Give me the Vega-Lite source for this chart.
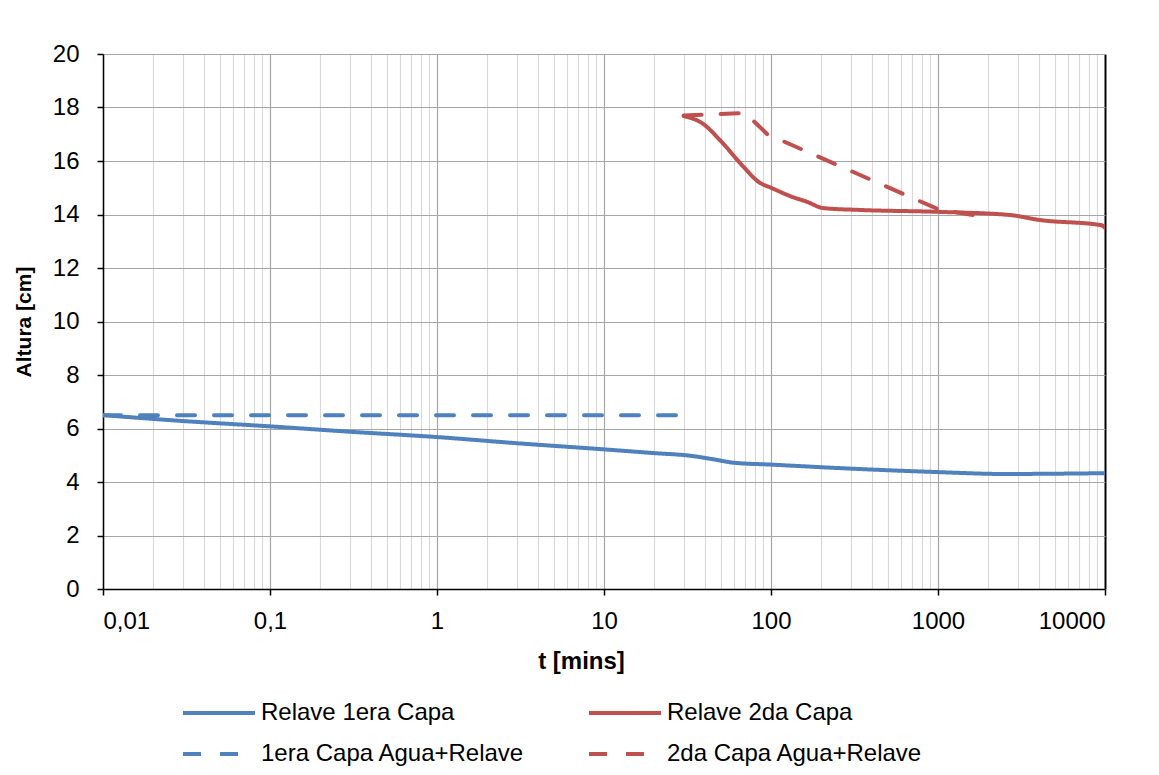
{
  "$schema": "https://vega.github.io/schema/vega-lite/v6.json",
  "autosize": {"type": "none"},
  "padding": {"left": 103, "top": 54, "right": 54, "bottom": 186},
  "width": 1002,
  "height": 535,
  "background": "white",
  "config": {
    "font": "Liberation Sans",
    "view": {"stroke": null},
    "axis": {"labelFont": "Liberation Sans", "titleFont": "Liberation Sans", "labelColor": "black", "titleColor": "black"}
  },
  "data": {
    "values": [
      {"serie": "Relave 1era Capa", "t": 0.01, "h": 6.5},
      {"serie": "Relave 1era Capa", "t": 0.03, "h": 6.28},
      {"serie": "Relave 1era Capa", "t": 0.1, "h": 6.08},
      {"serie": "Relave 1era Capa", "t": 0.3, "h": 5.88},
      {"serie": "Relave 1era Capa", "t": 1, "h": 5.68},
      {"serie": "Relave 1era Capa", "t": 3, "h": 5.45},
      {"serie": "Relave 1era Capa", "t": 10, "h": 5.22},
      {"serie": "Relave 1era Capa", "t": 20, "h": 5.08},
      {"serie": "Relave 1era Capa", "t": 33, "h": 4.98},
      {"serie": "Relave 1era Capa", "t": 45, "h": 4.85},
      {"serie": "Relave 1era Capa", "t": 60, "h": 4.72},
      {"serie": "Relave 1era Capa", "t": 100, "h": 4.65},
      {"serie": "Relave 1era Capa", "t": 300, "h": 4.5},
      {"serie": "Relave 1era Capa", "t": 1000, "h": 4.37},
      {"serie": "Relave 1era Capa", "t": 2500, "h": 4.3},
      {"serie": "Relave 1era Capa", "t": 5000, "h": 4.31},
      {"serie": "Relave 1era Capa", "t": 10000, "h": 4.33},
      {"serie": "Relave 2da Capa", "t": 30, "h": 17.68},
      {"serie": "Relave 2da Capa", "t": 39, "h": 17.4},
      {"serie": "Relave 2da Capa", "t": 50, "h": 16.75},
      {"serie": "Relave 2da Capa", "t": 68, "h": 15.8},
      {"serie": "Relave 2da Capa", "t": 85, "h": 15.2},
      {"serie": "Relave 2da Capa", "t": 100, "h": 15.0},
      {"serie": "Relave 2da Capa", "t": 135, "h": 14.65},
      {"serie": "Relave 2da Capa", "t": 165, "h": 14.47},
      {"serie": "Relave 2da Capa", "t": 205, "h": 14.24},
      {"serie": "Relave 2da Capa", "t": 340, "h": 14.17},
      {"serie": "Relave 2da Capa", "t": 1000, "h": 14.1},
      {"serie": "Relave 2da Capa", "t": 2700, "h": 13.98},
      {"serie": "Relave 2da Capa", "t": 4000, "h": 13.8},
      {"serie": "Relave 2da Capa", "t": 9500, "h": 13.6},
      {"serie": "Relave 2da Capa", "t": 10000, "h": 13.5},
      {"serie": "1era Capa Agua+Relave", "t": 0.01, "h": 6.5},
      {"serie": "1era Capa Agua+Relave", "t": 30, "h": 6.5},
      {"serie": "2da Capa Agua+Relave", "t": 30, "h": 17.7},
      {"serie": "2da Capa Agua+Relave", "t": 70, "h": 17.8},
      {"serie": "2da Capa Agua+Relave", "t": 95, "h": 17.0},
      {"serie": "2da Capa Agua+Relave", "t": 1000, "h": 14.2},
      {"serie": "2da Capa Agua+Relave", "t": 1800, "h": 13.93}
    ]
  },
  "encoding": {
    "x": {
      "field": "t", "type": "quantitative",
      "scale": {"type": "log", "domain": [0.01, 10000], "nice": false},
      "axis": {
        "title": "t [mins]",
        "titleFontSize": 24, "titleFontWeight": "bold", "titlePadding": 16, "titleX": 478,
        "labelFontSize": 24, "labelPadding": 14, "labelOverlap": false,
        "labelExpr": "datum.value == 0.01 ? '0,01' : datum.value == 0.1 ? '0,1' : (abs(log(datum.value)/LN10 - round(log(datum.value)/LN10)) < 0.001 ? format(datum.value, 'd') : '')",
        "values": [0.01,0.02,0.03,0.04,0.05,0.06,0.07,0.08,0.09,0.1,0.2,0.3,0.4,0.5,0.6,0.7,0.8,0.9,1,2,3,4,5,6,7,8,9,10,20,30,40,50,60,70,80,90,100,200,300,400,500,600,700,800,900,1000,2000,3000,4000,5000,6000,7000,8000,9000,10000],
        "domainColor": "black", "domainWidth": 1.5,
        "tickSize": 6, "tickWidth": 1.5,
        "tickColor": {"condition": {"test": "abs(log(datum.value)/LN10 - round(log(datum.value)/LN10)) < 0.001", "value": "black"}, "value": "transparent"},
        "grid": true,
        "gridColor": {"condition": [{"test": "datum.value == 10000", "value": "black"}, {"test": "abs(log(datum.value)/LN10 - round(log(datum.value)/LN10)) < 0.001", "value": "#a6a6a6"}], "value": "#d9d9d9"},
        "gridWidth": {"condition": {"test": "datum.value == 10000", "value": 2}, "value": 1.2}
      }
    },
    "y": {
      "field": "h", "type": "quantitative",
      "scale": {"domain": [0, 20], "nice": false},
      "axis": {
        "title": "Altura [cm]",
        "titleFontSize": 21, "titleFontWeight": "bold", "titlePadding": 18,
        "labelFontSize": 24, "labelPadding": 18,
        "values": [0,2,4,6,8,10,12,14,16,18,20],
        "domainColor": "black", "domainWidth": 1.5,
        "tickColor": "black", "tickSize": 6, "tickWidth": 1.5,
        "gridColor": "#a6a6a6", "gridWidth": 1.2
      }
    },
    "color": {
      "field": "serie", "type": "nominal",
      "scale": {
        "domain": ["Relave 1era Capa", "Relave 2da Capa", "1era Capa Agua+Relave", "2da Capa Agua+Relave"],
        "range": ["#4f81bd", "#c0504d", "#4f81bd", "#c0504d"]
      },
      "legend": {
        "title": null, "orient": "none", "direction": "horizontal", "legendX": 78, "legendY": 647, "padding": 0,
        "columns": 2, "columnPadding": 62, "rowPadding": 17, "clipHeight": 24,
        "symbolType": "stroke", "symbolSize": 5184, "symbolStrokeWidth": 4,
        "labelFontSize": 24, "labelOffset": 4, "labelColor": "black", "labelLimit": 400
      }
    },
    "strokeDash": {
      "field": "serie", "type": "nominal",
      "scale": {
        "domain": ["Relave 1era Capa", "Relave 2da Capa", "1era Capa Agua+Relave", "2da Capa Agua+Relave"],
        "range": [[1, 0], [1, 0], [18, 19], [18, 19]]
      },
      "legend": {
        "title": null, "orient": "none", "direction": "horizontal", "legendX": 78, "legendY": 647, "padding": 0,
        "columns": 2, "columnPadding": 62, "rowPadding": 17, "clipHeight": 24,
        "symbolType": "stroke", "symbolSize": 5184, "symbolStrokeWidth": 4,
        "labelFontSize": 24, "labelOffset": 4, "labelColor": "black", "labelLimit": 400
      }
    }
  },
  "layer": [
    {
      "transform": [{"filter": "datum.serie == 'Relave 1era Capa' || datum.serie == 'Relave 2da Capa'"}],
      "mark": {"type": "line", "interpolate": "monotone", "strokeWidth": 4, "strokeCap": "round", "clip": true}
    },
    {
      "transform": [{"filter": "datum.serie == '1era Capa Agua+Relave' || datum.serie == '2da Capa Agua+Relave'"}],
      "mark": {"type": "line", "interpolate": "linear", "strokeWidth": 4, "strokeCap": "round", "clip": true}
    }
  ]
}
